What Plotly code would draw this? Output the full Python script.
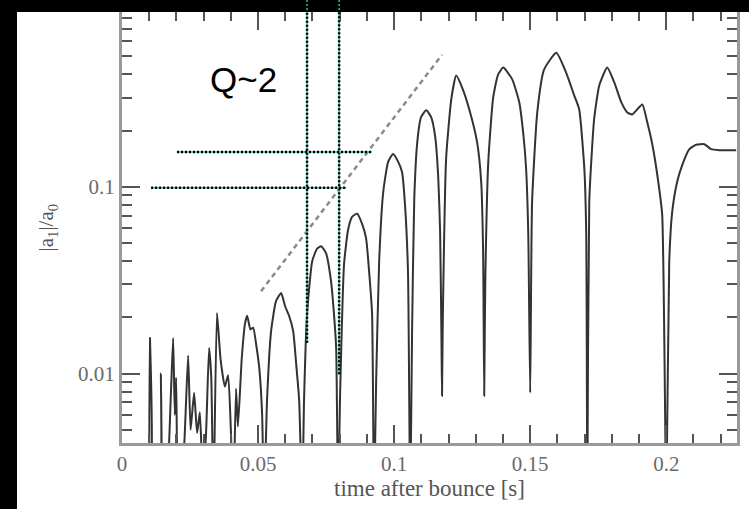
import plotly.graph_objects as go

# ---- data (time after bounce [s], |a1|/a0) ----
time_s = [
    0.0000, 0.0095, 0.0103, 0.0110, 0.0136, 0.0143, 0.0150, 0.0168, 0.0180, 0.0188,
    0.0194, 0.0199, 0.0206, 0.0228, 0.0243, 0.0252, 0.0265, 0.0276, 0.0286, 0.0296,
    0.0308, 0.0320, 0.0328, 0.0336, 0.0349, 0.0362, 0.0378, 0.0390, 0.0400, 0.0409,
    0.0419, 0.0426, 0.0440, 0.0452, 0.0460, 0.0472, 0.0482, 0.0494, 0.0505, 0.0515,
    0.0522,
    0.0533, 0.0548, 0.0566, 0.0585, 0.0599, 0.0614, 0.0629, 0.0640, 0.0651, 0.0662,
    0.0669, 0.0680, 0.0699, 0.0717, 0.0732, 0.0750, 0.0768, 0.0779, 0.0787, 0.0794,
    0.0801, 0.0816, 0.0831, 0.0846, 0.0864, 0.0882, 0.0897, 0.0908, 0.0919, 0.0926,
    0.0934, 0.0945, 0.0960, 0.0978, 0.0996, 0.1015, 0.1029, 0.1040, 0.1051, 0.1059,
    0.1066, 0.1074, 0.1085, 0.1099, 0.1118, 0.1136, 0.1151, 0.1162, 0.1169, 0.1174, 0.1176,
    0.1179, 0.1191, 0.1210, 0.1228, 0.1250, 0.1276, 0.1305, 0.1320, 0.1327, 0.1331,
    0.1335, 0.1346, 0.1364, 0.1382, 0.1401, 0.1434, 0.1460, 0.1475, 0.1485, 0.1493, 0.1500,
    0.1507, 0.1526, 0.1551, 0.1596, 0.1632, 0.1662, 0.1680, 0.1699, 0.1706, 0.1710,
    0.1717, 0.1735, 0.1754, 0.1783, 0.1809, 0.1835, 0.1857, 0.1875, 0.1912, 0.1930,
    0.1949, 0.1967, 0.1985, 0.2000,
    0.2011, 0.2022, 0.2040, 0.2059, 0.2085, 0.2110, 0.2140, 0.2165, 0.2195, 0.2257,
]
amplitude = [
    0.002, 0.002, 0.0155, 0.002, 0.002, 0.0100, 0.002, 0.003, 0.008, 0.0155,
    0.006, 0.0095, 0.002, 0.004, 0.0125, 0.005, 0.0079, 0.0048, 0.0062, 0.0030,
    0.0045, 0.0137, 0.0095, 0.002, 0.0211, 0.0120, 0.0085, 0.0098, 0.0050, 0.002,
    0.0083, 0.0052, 0.0120, 0.0185, 0.0204, 0.0172, 0.0176, 0.0140, 0.0105, 0.0060,
    0.002,
    0.0072, 0.0169, 0.0244, 0.0270, 0.0230, 0.0204, 0.0169, 0.0113, 0.0072, 0.002,
    0.0072, 0.0208, 0.0399, 0.0467, 0.0480, 0.0440, 0.0313, 0.0208, 0.0137, 0.002,
    0.0072, 0.0385, 0.0590, 0.0692, 0.0718, 0.0635, 0.0529, 0.0353, 0.0208, 0.002,
    0.0092, 0.0399, 0.0940, 0.136, 0.150, 0.136, 0.120, 0.080, 0.035, 0.002,
    0.0169, 0.0863, 0.173, 0.236, 0.257, 0.236, 0.185, 0.113, 0.0577, 0.0150, 0.0076,
    0.0200, 0.141, 0.294, 0.394, 0.340, 0.260, 0.173, 0.106, 0.0451, 0.0076,
    0.0313, 0.136, 0.301, 0.399, 0.435, 0.376, 0.283, 0.190, 0.125, 0.0555, 0.0079,
    0.083, 0.250, 0.424, 0.522, 0.409, 0.308, 0.260, 0.125, 0.0555, 0.002,
    0.083, 0.230, 0.350, 0.435, 0.362, 0.283, 0.250, 0.244, 0.276, 0.222,
    0.168, 0.116, 0.071, 0.002,
    0.0399, 0.0736, 0.106, 0.131, 0.159, 0.168, 0.169, 0.159, 0.157, 0.157,
]

# dashed growth guide line
guide_t = [0.0511, 0.1176]
guide_amp = [0.0276, 0.509]

# dotted marker lines (in data units)
vline_t = [0.0680, 0.0798]
vline_bottom = [0.0146, 0.0099]
hline_amp = [0.1535, 0.0988]
hline_t0 = [0.0202, 0.0107]
hline_t1 = [0.0919, 0.0824]

x_ticks = [0, 0.05, 0.1, 0.15, 0.2]
x_ticktext = ["0", "0.05", "0.1", "0.15", "0.2"]
y_ticks = [0.01, 0.1]
y_ticktext = ["0.01", "0.1"]
y_minor = [0.005, 0.006, 0.007, 0.008, 0.009,
           0.02, 0.03, 0.04, 0.05, 0.06, 0.07, 0.08, 0.09,
           0.2, 0.3, 0.4, 0.5, 0.6, 0.7, 0.8, 0.9]

fig = go.Figure()
fig.add_trace(go.Scatter(
    x=time_s, y=amplitude, mode="lines",
    line=dict(color="#333333", width=2, shape="spline", smoothing=0.5),
    showlegend=False, hoverinfo="skip"))
fig.add_trace(go.Scatter(
    x=guide_t, y=guide_amp, mode="lines",
    line=dict(color="#8a8a8a", width=2.5, dash="5px,4px"),
    showlegend=False, hoverinfo="skip"))

shapes = []
# black frame strips (left and top)
shapes.append(dict(type="rect", xref="paper", yref="paper",
                   x0=-0.2, x1=-0.1707, y0=-0.16, y1=1.03,
                   fillcolor="black", line=dict(width=0), layer="above"))
shapes.append(dict(type="rect", xref="paper", yref="paper",
                   x0=-0.2, x1=1.03, y0=1.0, y1=1.03,
                   fillcolor="black", line=dict(width=0), layer="above"))
teal = "#1fbfa8"
for t, yb in zip(vline_t, vline_bottom):
    for col, dash, w in [(teal, "solid", 1.5), ("black", "2px,2px", 2.5)]:
        shapes.append(dict(type="line", xref="x", yref="y",
                           x0=t, x1=t, y0=yb, y1=0.86,
                           line=dict(color=col, width=w, dash=dash)))
        shapes.append(dict(type="line", xref="x", yref="paper",
                           x0=t, x1=t, y0=1.0, y1=1.03,
                           line=dict(color=col, width=w, dash=dash)))
for a, t0, t1 in zip(hline_amp, hline_t0, hline_t1):
    for col, dash, w in [(teal, "solid", 1.5), ("black", "2px,2px", 2.5)]:
        shapes.append(dict(type="line", xref="x", yref="y",
                           x0=t0, x1=t1, y0=a, y1=a,
                           line=dict(color=col, width=w, dash=dash)))

axis_common = dict(
    showline=True, linecolor="#9a9a9a", linewidth=3, mirror="ticks",
    ticks="inside", tickcolor="#555555", tickwidth=2, ticklen=18,
    showgrid=False, zeroline=False,
    tickfont=dict(family="Liberation Serif", size=21, color="#6a6a6a"),
)

fig.update_layout(
    width=749, height=509,
    margin=dict(l=122, r=12, t=9, b=66),
    paper_bgcolor="white", plot_bgcolor="white",
    shapes=shapes,
    xaxis=dict(range=[0, 0.226], tickvals=x_ticks, ticktext=x_ticktext,
               minor=dict(dtick=0.01, tick0=0, ticks="inside", ticklen=9,
                          tickcolor="#555555", tickwidth=2),
               **axis_common),
    yaxis=dict(type="log", range=[-2.372, -0.064], tickvals=y_ticks, ticktext=y_ticktext,
               minor=dict(tickmode="array", tickvals=y_minor, ticks="inside", ticklen=10,
                          tickcolor="#555555", tickwidth=2),
               **axis_common),
    annotations=[
        dict(text="Q~2", x=0.0445, y=-0.426, xref="x", yref="y", showarrow=False,
             font=dict(family="Liberation Sans", size=35, color="black"),
             xanchor="center", yanchor="middle"),
        dict(text="time after bounce [s]", x=0.5, y=-0.106, xref="paper", yref="paper",
             showarrow=False, xanchor="center", yanchor="middle",
             font=dict(family="Liberation Serif", size=23, color="#555555")),
        dict(text="|a<sub>1</sub>|/a<sub>0</sub>", x=-0.122, y=0.5, xref="paper", yref="paper",
             showarrow=False, xanchor="center", yanchor="middle", textangle=-90,
             font=dict(family="Liberation Serif", size=21, color="#555555")),
    ],
)

fig.write_html(
    "out.html",
    config={"displayModeBar": False},
    post_script="document.body.style.margin='0';document.body.style.overflow='hidden';",
)
